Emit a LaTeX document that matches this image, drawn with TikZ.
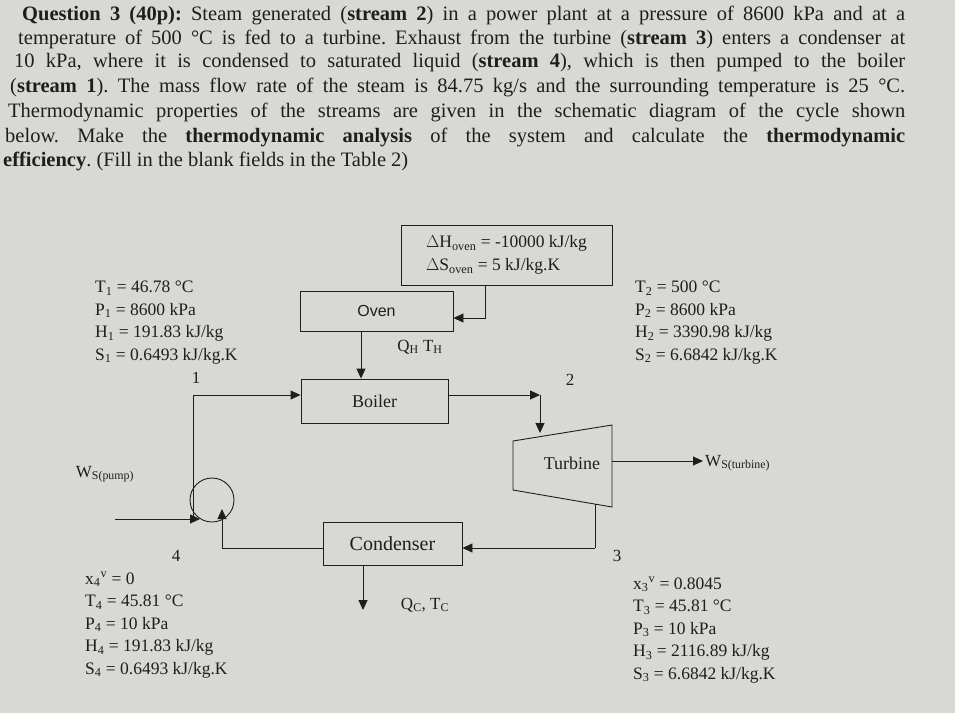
\documentclass[tikz,border=0pt]{standalone}
\usepackage{fontspec}
\setmainfont{Liberation Serif}
\newfontfamily\sanf{Liberation Sans}
\usetikzlibrary{arrows.meta}
\definecolor{paper}{HTML}{D8D8D5}
\definecolor{ink}{HTML}{1E1E1E}
\newcommand{\sub}[1]{\textsubscript{#1}}
\frenchspacing
\begin{document}
\begin{tikzpicture}[x=1pt,y=-1pt,
  qline/.style={anchor=west,inner sep=0pt,font=\fontsize{20.5}{22}\selectfont,text=ink},
  data/.style={anchor=north west,inner sep=0pt,align=left,font=\fontsize{17.5}{22.5}\selectfont,text=ink},
  unit/.style={draw=ink,line width=0.9pt,inner sep=0pt,text=ink},
  flow/.style={draw=ink,line width=0.9pt,-{Triangle[length=10pt,width=9pt]}},
  pl/.style={draw=ink,line width=0.9pt},
  lab/.style={inner sep=0pt,text=ink,font=\fontsize{17}{18}\selectfont}]
\fill[paper] (0,0) rectangle (955,713);
\useasboundingbox (0,0) rectangle (955,713);
% question text
\node[qline] (q1) at (22,15) {\makebox[883pt][s]{\textbf{Question 3 (40p):} Steam generated (\textbf{stream 2}) in a power plant at a pressure of 8600 kPa and at a}};
\node[qline] (q2) at (18,39) {\makebox[887pt][s]{temperature of 500 °C is fed to a turbine. Exhaust from the turbine (\textbf{stream 3}) enters a condenser at}};
\node[qline] (q3) at (14,63) {\makebox[891pt][s]{10 kPa, where it is condensed to saturated liquid (\textbf{stream 4}), which is then pumped to the boiler}};
\node[qline] (q4) at (10,87) {\makebox[895pt][s]{(\textbf{stream 1}). The mass flow rate of the steam is 84.75 kg/s and the surrounding temperature is 25 °C.}};
\node[qline] (q5) at (8,112) {\makebox[897pt][s]{Thermodynamic properties of the streams are given in the schematic diagram of the cycle shown}};
\node[qline] (q6) at (5,137) {\makebox[900pt][s]{below. Make the \textbf{thermodynamic analysis} of the system and calculate the \textbf{thermodynamic}}};
\node[qline] (q7) at (3,161) {\textbf{efficiency}. (Fill in the blank fields in the Table 2)};
% units
\node[unit,minimum width=211pt,minimum height=60pt,align=left,font=\fontsize{17.5}{23}\selectfont] (info) at (506.5,255) {$\Delta$H\textsubscript{oven} = -10000 kJ/kg\\$\Delta$S\textsubscript{oven} = 5 kJ/kg.K};
\node[unit,minimum width=153pt,minimum height=40pt,font=\sanf\fontsize{16}{17}\selectfont] (oven) at (376.5,311) {Oven};
\node[unit,minimum width=147pt,minimum height=44pt,font=\fontsize{18}{18}\selectfont] (boiler) at (374.5,401) {Boiler};
\node[unit,minimum width=139pt,minimum height=43pt,font=\fontsize{20}{20}\selectfont] (cond) at (392.5,544) {Condenser};
\draw[pl] (513,441) coordinate (ttl) -- (612,425) coordinate (ttr) -- (612,507) coordinate (tbr) -- (513,490) coordinate (tbl) -- cycle;
\node[lab,font=\fontsize{18}{18}\selectfont] (turb) at (572,463) {Turbine};
\draw[pl] (212,500) circle (22pt);
\coordinate (pump) at (212,500);
% connectors
\coordinate (c1) at (485,318);
\draw[flow] (info.south -| c1) -- (c1) -- (oven.east |- c1);
\draw[flow] (oven.south -| 361,0) -- (boiler.north -| 361,0);
\coordinate (c2) at (540,395);
\draw[flow] (boiler.east |- c2) -- (c2);
\draw[flow] (c2) -- (540,433);
\coordinate (c3) at (595,548);
\draw[pl] (595,504) -- (c3);
\draw[flow] (c3) -- (cond.east |- c3);
\coordinate (c4) at (222,548);
\draw[pl] (cond.west |- c4) -- (c4);
\draw[flow] (c4) -- (222,509);
\coordinate (c5) at (193,519);
\draw[pl] (193,395) -- (c5);
\draw[flow] (115,519) -- (200,519);
\draw[flow] (193,395) -- (boiler.west |- 0,395);
\draw[flow] (tbr |- 0,461) -- (703,461);
\draw[flow] (cond.south -| 363,0) -- (363,610);
% labels
\node[lab] (qh) at (420,347) {Q\textsubscript{H} T\textsubscript{H}};
\node[lab] (qc) at (425,605) {Q\textsubscript{C}, T\textsubscript{C}};
\node[lab,anchor=west] (wt) at (705,463) {W\textsubscript{S(turbine)}};
\node[lab] (wp) at (105,474) {W\textsubscript{S(pump)}};
\node[lab] (n1) at (196,378) {1};
\node[lab] (n2) at (570,380) {2};
\node[lab] (n3) at (617,556) {3};
\node[lab] (n4) at (176,556) {4};
% data
\node[data] (d1) at (95,281) {T\sub{1} = 46.78 °C\\P\sub{1} = 8600 kPa\\H\sub{1} = 191.83 kJ/kg\\S\sub{1} = 0.6493 kJ/kg.K};
\node[data] (d2) at (635,281) {T\sub{2} = 500 °C\\P\sub{2} = 8600 kPa\\H\sub{2} = 3390.98 kJ/kg\\S\sub{2} = 6.6842 kJ/kg.K};
\node[data] (d4) at (85,572) {x\sub{4}\textsuperscript{v} = 0\\T\sub{4} = 45.81 °C\\P\sub{4} = 10 kPa\\H\sub{4} = 191.83 kJ/kg\\S\sub{4} = 0.6493 kJ/kg.K};
\node[data] (d3) at (633,577) {x\sub{3}\textsuperscript{v} = 0.8045\\T\sub{3} = 45.81 °C\\P\sub{3} = 10 kPa\\H\sub{3} = 2116.89 kJ/kg\\S\sub{3} = 6.6842 kJ/kg.K};
\end{tikzpicture}
\end{document}
